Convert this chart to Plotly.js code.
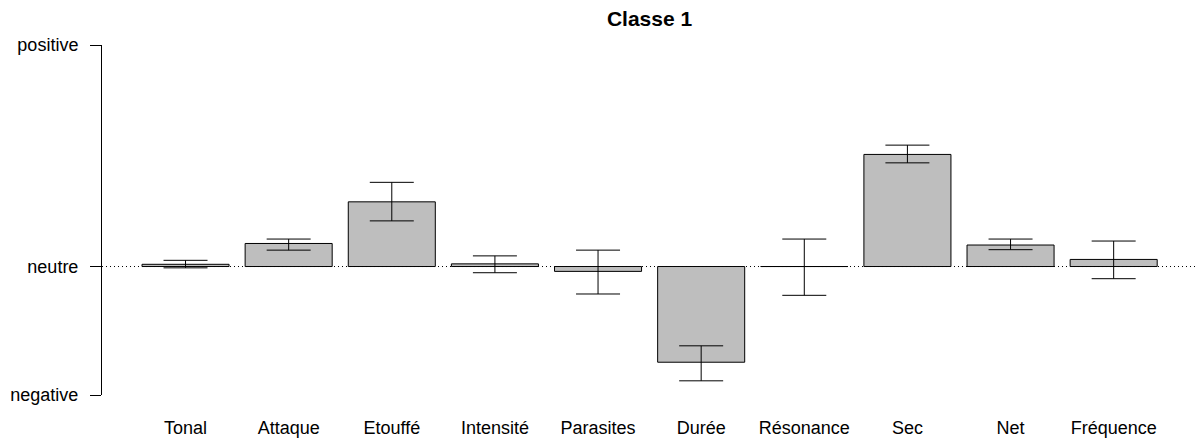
<!DOCTYPE html>
<html>
<head>
<meta charset="utf-8">
<script src="https://cdn.plot.ly/plotly-3.0.1.min.js"></script>
<style>
  html, body { margin: 0; padding: 0; background: #ffffff; }
  #chart { width: 1197px; height: 448px; }
</style>
</head>
<body>
<div id="chart"></div>
<script>
// Category labels
const categories = ["Tonal", "Attaque", "Etouffé", "Intensité", "Parasites", "Durée", "Résonance", "Sec", "Net", "Fréquence"];
// Mean scores (neutre = 0)
const means = [0.05, 0.52, 1.46, 0.06, -0.11, -2.16, 0.00, 2.53, 0.485, 0.16];
// Error bar extents above / below the mean
const errPlus = [0.09, 0.10, 0.44, 0.18, 0.48, 0.37, 0.62, 0.21, 0.135, 0.415];
const errMinus = [0.08, 0.15, 0.43, 0.20, 0.51, 0.42, 0.65, 0.19, 0.105, 0.435];
// Y axis tick positions and labels
const yTickVals = [-2.9, 0, 5];
const yTickText = ["negative", "neutre", "positive"];

const FONT = "Liberation Sans, Arial, Helvetica, sans-serif";
const barWidth = 0.844;

const xIdx = categories.map((c, i) => i);

const trace = {
  type: "bar",
  x: xIdx,
  y: means,
  width: barWidth,
  marker: { color: "#BEBEBE", line: { color: "#000000", width: 1 } },
  error_y: {
    type: "data",
    symmetric: false,
    array: errPlus,
    arrayminus: errMinus,
    color: "#000000",
    thickness: 1,
    width: 22
  },
  hoverinfo: "x+y"
};

// Zero-height bars are not drawn by Plotly: draw their outline at the baseline.
const shapes = [
  {
    type: "line", xref: "paper", yref: "y",
    x0: 0, x1: 1, y0: 0, y1: 0,
    line: { color: "#000000", width: 1, dash: "1px,3px" },
    layer: "below"
  }
];
means.forEach((v, i) => {
  if (v === 0) {
    shapes.push({
      type: "line", xref: "x", yref: "y",
      x0: i - barWidth / 2, x1: i + barWidth / 2, y0: 0, y1: 0,
      line: { color: "#000000", width: 1 },
      layer: "below"
    });
  }
});

const layout = {
  width: 1197,
  height: 448,
  margin: { l: 102, r: 0, t: 45, b: 53, pad: 0 },
  paper_bgcolor: "#ffffff",
  plot_bgcolor: "#ffffff",
  showlegend: false,
  font: { family: FONT, size: 18, color: "#000000" },
  title: {
    text: "Classe 1",
    font: { family: FONT, size: 21, color: "#000000", weight: "bold" },
    x: 0.5, xref: "paper", xanchor: "center",
    y: 1 - 19 / 448, yref: "container", yanchor: "middle"
  },
  xaxis: {
    range: [-0.81, 9.808],
    tickmode: "array",
    tickvals: xIdx,
    ticktext: categories,
    showline: false,
    showgrid: false,
    zeroline: false,
    ticks: "",
    ticklabelstandoff: 20,
    tickfont: { family: FONT, size: 18, color: "#000000" },
    fixedrange: true
  },
  yaxis: {
    range: [-2.9, 5],
    tickmode: "array",
    tickvals: yTickVals,
    ticktext: yTickText,
    showline: true,
    linecolor: "#000000",
    linewidth: 1,
    ticks: "outside",
    ticklen: 11,
    tickwidth: 1,
    tickcolor: "#000000",
    showgrid: false,
    zeroline: false,
    ticklabelstandoff: 8,
    tickfont: { family: FONT, size: 18, color: "#000000" },
    fixedrange: true
  },
  shapes: shapes
};

Plotly.newPlot("chart", [trace], layout, { displayModeBar: false, staticPlot: true });
</script>
</body>
</html>
